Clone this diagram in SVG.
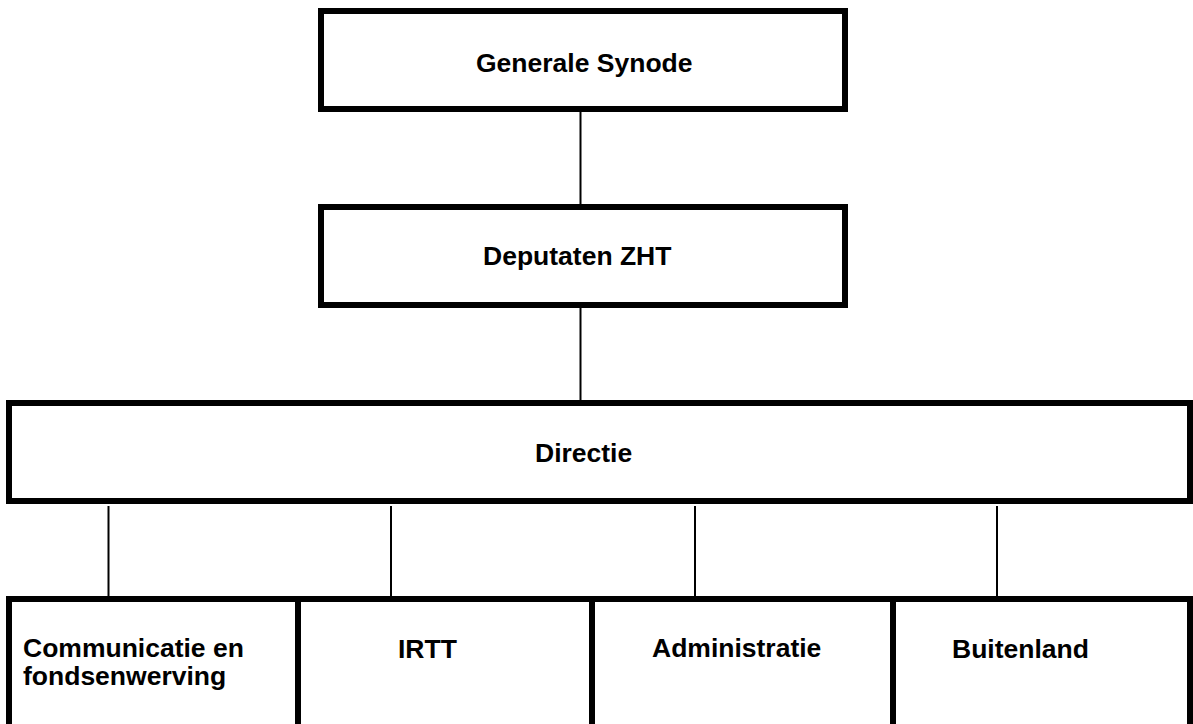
<svg xmlns="http://www.w3.org/2000/svg" width="1193" height="724" viewBox="0 0 1193 724">
<style>
.box{fill:#fff;stroke:#000;stroke-width:6}
.lbl{font-family:"Liberation Sans",Arial,sans-serif;font-weight:bold;font-size:26.5px;fill:#000}
.conn{stroke:#000;stroke-width:2;fill:none}
</style>
<rect width="1193" height="724" fill="#fff"/>
<g id="connectors">
<line class="conn" x1="580.5" y1="112" x2="580.5" y2="204"/>
<line class="conn" x1="580.5" y1="308" x2="580.5" y2="400"/>
<line class="conn" x1="108.5" y1="506" x2="108.5" y2="596"/>
<line class="conn" x1="391" y1="506" x2="391" y2="596"/>
<line class="conn" x1="695" y1="506" x2="695" y2="596"/>
<line class="conn" x1="997" y1="506" x2="997" y2="596"/>
</g>
<g id="generale-synode">
<rect class="box" x="321" y="11" width="524" height="98"/>
<text class="lbl" x="476" y="72">Generale Synode</text>
</g>
<g id="deputaten-zht">
<rect class="box" x="321" y="207" width="524" height="98"/>
<text class="lbl" x="483" y="265">Deputaten ZHT</text>
</g>
<g id="directie">
<rect class="box" x="9" y="403" width="1181" height="98"/>
<text class="lbl" x="535" y="462">Directie</text>
</g>
<g id="communicatie">
<rect class="box" x="9" y="599" width="289" height="140"/>
<text class="lbl" x="23" y="657">Communicatie en</text>
<text class="lbl" x="23" y="685">fondsenwerving</text>
</g>
<g id="irtt">
<rect class="box" x="298" y="599" width="294" height="140"/>
<text class="lbl" x="398" y="658">IRTT</text>
</g>
<g id="administratie">
<rect class="box" x="592" y="599" width="301" height="140"/>
<text class="lbl" x="652" y="657">Administratie</text>
</g>
<g id="buitenland">
<rect class="box" x="893" y="599" width="297" height="140"/>
<text class="lbl" x="952" y="658">Buitenland</text>
</g>
</svg>
